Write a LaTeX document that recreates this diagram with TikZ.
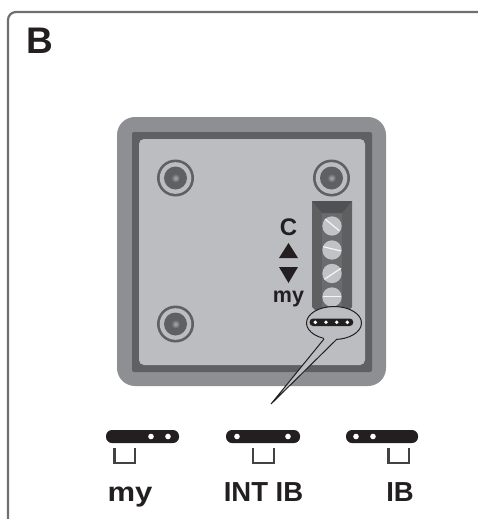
\documentclass[tikz,border=0pt]{standalone}
\usepackage{fontspec}
\usetikzlibrary{shapes.geometric}
\setmainfont{Liberation Sans}
\definecolor{frameC}{HTML}{6E6F71}
\definecolor{plateC}{HTML}{8E8F92}
\definecolor{ringC}{HTML}{5F6062}
\definecolor{panelC}{HTML}{BCBDC0}
\definecolor{blockC}{HTML}{5E5F61}
\definecolor{blockLt}{HTML}{6A6B6D}
\definecolor{blockDk}{HTML}{505153}
\definecolor{txtC}{HTML}{231F20}
\tikzset{
  x=1pt,y=-1pt,
  lbl/.style={text=txtC,inner sep=0pt,anchor=base},
  jumper/.style={fill=txtC,rounded corners=6pt},
  smalljumper/.style={fill=txtC,rounded corners=3.6pt},
  pin/.style={fill=white},
  bracket/.style={draw=txtC!85!white,line width=2.2pt,line join=miter},
  termscrew/.style={fill=panelC!92!white},
  slot/.style={draw=white!85!panelC,line width=1.2pt},
  callout/.style={draw=txtC,line width=1pt}
}
\newcommand{\mountscrew}[2]{%
  \fill[ringC] (#1,#2) circle[radius=18.5];
  \fill[panelC] (#1,#2) circle[radius=15.8];
  \fill[ringC] (#1,#2) circle[radius=11.5];
  \shade[inner color=panelC!80!ringC,outer color=ringC] (#1,#2) circle[radius=4.5];
}
\newcommand{\tscrew}[4]{%
  \fill[termscrew] (#1,#2) circle[radius=9.7];
  \draw[slot] (#3) -- (#4);
}
\newcommand{\jumperbar}[4]{% left, right, pin1, pin2
  \fill[jumper] (#1,430) rectangle (#2,443);
  \fill[pin] (#3,436.5) circle[radius=2.8];
  \fill[pin] (#4,436.5) circle[radius=2.8];
}
\newcommand{\jbracket}[2]{%
  \draw[bracket] (#1,448) -- (#1,463) -- (#2,463) -- (#2,448);
}
\begin{document}
\begin{tikzpicture}
\useasboundingbox (0,0) rectangle (478,519);
% outer frame
\draw[frameC,line width=2.2pt,rounded corners=8pt] (8,530) -- (8,12) -- (490,12);
\node[lbl,font=\bfseries\fontsize{37}{37}\selectfont] (title) at (39.5,53) {B};
% plate
\fill[plateC,rounded corners=18pt] (117,117) rectangle (386,386);
\fill[ringC,rounded corners=2pt] (132,132) rectangle (372,372);
\fill[panelC,rounded corners=5pt] (139,139) rectangle (365,365);
\mountscrew{175.5}{178}
\mountscrew{331.5}{178}
\mountscrew{175.5}{324}
% terminal block
\fill[blockC] (312,201) -- (352,201) -- (352,307) -- (345,314) -- (319,314) -- (312,307) -- cycle;
\fill[blockLt] (322,213) rectangle (342,314);
\fill[blockDk] (312,201) -- (352,201) -- (342,213) -- (322,213) -- cycle;
\tscrew{332}{226}{325,219}{339.3,230.7}
\tscrew{332}{250}{323.3,246.7}{341,251}
\tscrew{332}{273.5}{324.3,279.3}{341,268.3}
\tscrew{332}{297}{323.3,296.7}{341,296.7}
% terminal labels
\node[lbl,font=\bfseries\fontsize{24}{24}\selectfont] (labC) at (288.5,235) {C};
\fill[txtC] (279,258) -- (288.5,243) -- (298,258) -- cycle;
\fill[txtC] (279,267) -- (298,267) -- (288.5,283) -- cycle;
\node[lbl,font=\bfseries\fontsize{21.5}{21.5}\selectfont] (labMy) at (288.5,302.5) {my};
% callout
\node[callout,ellipse,fill=panelC,minimum width=55pt,minimum height=33pt,inner sep=0pt] (bubble) at (334,323) {};
\coordinate (tip) at (271,404);
\coordinate (tailL) at (324,339);
\coordinate (tailR) at (337,339);
\fill[panelC] (tailL) -- (tip) -- (tailR) -- (tailR|-bubble.center) -- (tailL|-bubble.center) -- cycle;
\draw[callout] (tailL) -- (tip) -- (tailR);
\fill[smalljumper] (309.5,318.5) rectangle (353.3,326);
\foreach \px in {315.3,326,336.7,347.3} \fill[pin] (\px,322.3) circle[radius=1.9];
% jumper positions
\jumperbar{106}{179}{151}{168}
\jumperbar{226}{300}{237}{288}
\jumperbar{346}{418}{356}{373}
\jbracket{114.5}{135}
\jbracket{253}{274}
\jbracket{388.5}{409}
\node[lbl,font=\bfseries\fontsize{27}{27}\selectfont,xscale=1.15] (posMy) at (130,501.5) {my};
\node[lbl,font=\bfseries\fontsize{27.5}{27.5}\selectfont] (posInt) at (263.5,501) {INT IB};
\node[lbl,font=\bfseries\fontsize{27.5}{27.5}\selectfont] (posIb) at (400,501) {IB};
\end{tikzpicture}
\end{document}
